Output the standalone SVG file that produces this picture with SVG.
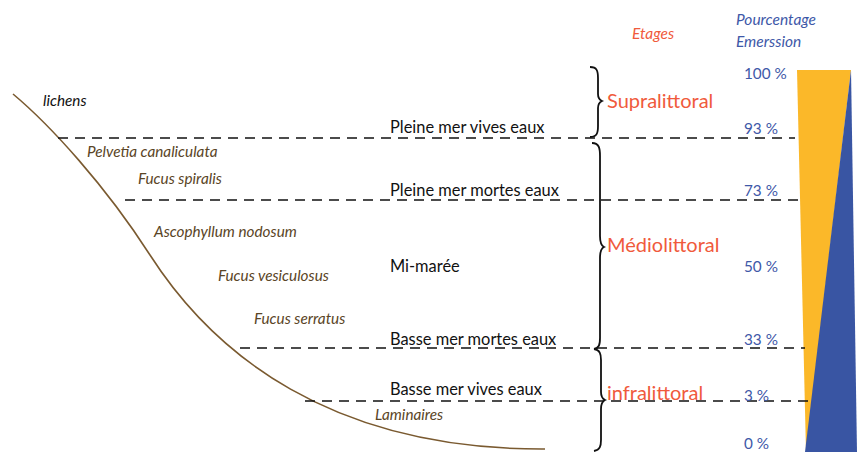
<svg xmlns="http://www.w3.org/2000/svg" width="858" height="452" viewBox="0 0 858 452">
<style>
text{font-family:Lato,"Open Sans",sans-serif}
.lvl{font-size:16.4px;fill:#111}
.sp{font-size:15.3px;font-style:italic;fill:#5a4526}
.pc{font-size:15.3px;fill:#3e58a8}
.et{font-size:20px;fill:#f05a3c}
.hd{font-size:15.5px;font-style:italic}
.dash{stroke:#111;stroke-width:1.6;stroke-dasharray:10 7;fill:none}
.brace{stroke:#111;stroke-width:1.8;fill:none}
</style>
<rect width="858" height="452" fill="#fff"/>
<g id="gauge">
<polygon points="797,70 851,70 806,452" fill="#fbb829"/>
<polygon points="851,70 857,452 805,452" fill="#3955a3"/>
</g>
<g id="shore">
<path d="M13,94 C50,125 105,185 150,255 C213,353 330,450 545,449" stroke="#7a5a30" stroke-width="1.6" fill="none"/>
</g>
<g id="connectors">
<line class="dash" x1="58" y1="138" x2="795" y2="138"/>
<line class="dash" x1="125" y1="200" x2="800" y2="200"/>
<line class="dash" x1="240" y1="348" x2="805" y2="348"/>
<line class="dash" x1="305" y1="401" x2="808" y2="401"/>
</g>
<g id="braces">
<path class="brace" d="M590,67 C597,67 598,71 598,78 L598,94 C598,98 600,100 602,101 C600,102 598,104 598,108 L598,126 C598,133 597,137 590,137"/>
<path class="brace" d="M592,143 C599,143 600,148 600,156 L600,236 C600,242 602,246 604,247 C602,248 600,252 600,258 L600,338 C600,345 599,348 594,349"/>
<path class="brace" d="M594,349 C600,350 601,354 601,360 L601,392 C601,397 603,399 605,400 C603,401 601,404 601,409 L601,440 C601,446 600,450 594,451"/>
</g>
<g id="headers">
<text class="hd" x="632" y="39" fill="#f05a3c">Etages</text>
<text class="hd" x="736" y="25" fill="#3e58a8">Pourcentage</text>
<text class="hd" x="736" y="47" fill="#3e58a8">Emerssion</text>
</g>
<g id="stages">
<text class="et" x="607" y="108">Supralittoral</text>
<text class="et" x="607" y="252">Médiolittoral</text>
<text class="et" x="607" y="400">infralittoral</text>
</g>
<g id="percentages">
<text class="pc" x="744" y="79">100 %</text>
<text class="pc" x="744" y="134">93 %</text>
<text class="pc" x="744" y="196">73 %</text>
<text class="pc" x="744" y="272">50 %</text>
<text class="pc" x="744" y="345">33 %</text>
<text class="pc" x="744" y="401">3 %</text>
<text class="pc" x="744" y="449">0 %</text>
</g>
<g id="levels">
<text class="lvl" x="390" y="133">Pleine mer vives eaux</text>
<text class="lvl" x="390" y="196">Pleine mer mortes eaux</text>
<text class="lvl" x="390" y="272">Mi-marée</text>
<text class="lvl" x="390" y="345">Basse mer mortes eaux</text>
<text class="lvl" x="390" y="395">Basse mer vives eaux</text>
</g>
<g id="species">
<text class="sp" x="43" y="106" style="fill:#111">lichens</text>
<text class="sp" x="87" y="157">Pelvetia canaliculata</text>
<text class="sp" x="138" y="184">Fucus spiralis</text>
<text class="sp" x="154" y="237">Ascophyllum nodosum</text>
<text class="sp" x="218" y="281">Fucus vesiculosus</text>
<text class="sp" x="254" y="324">Fucus serratus</text>
<text class="sp" x="375" y="420">Laminaires</text>
</g>
</svg>
